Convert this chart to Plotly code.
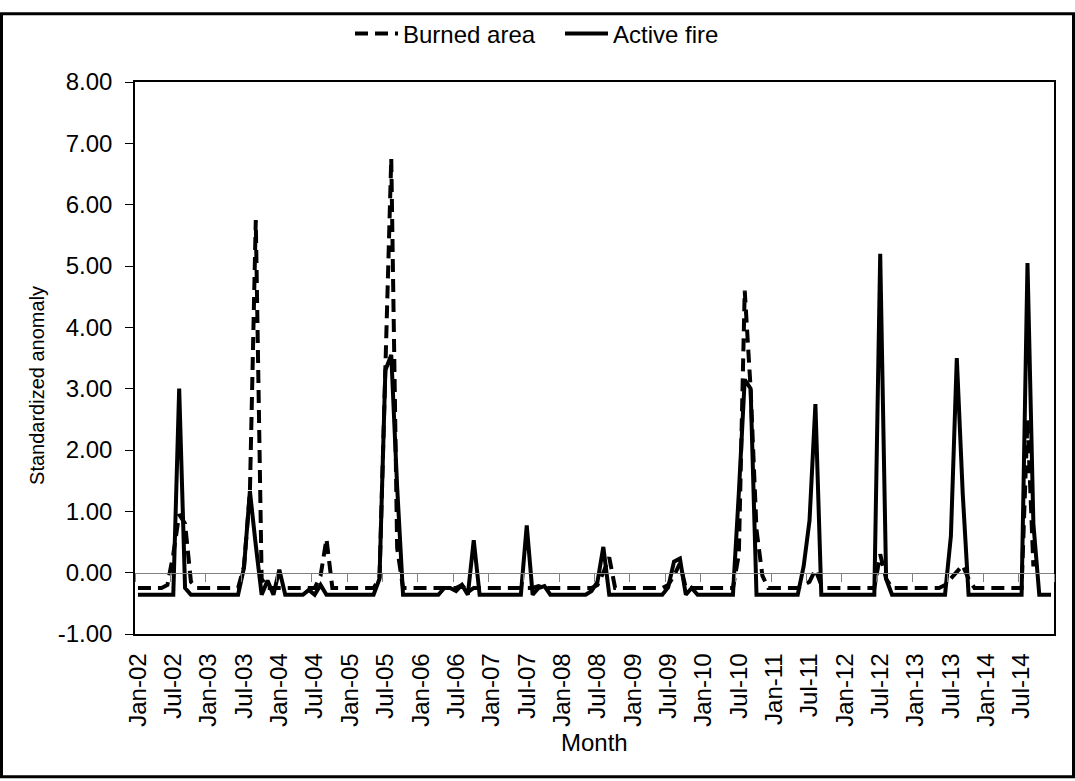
import plotly.graph_objects as go

MONTH_NAMES = ["Jan", "Feb", "Mar", "Apr", "May", "Jun",
               "Jul", "Aug", "Sep", "Oct", "Nov", "Dec"]
YEARS = ["02", "03", "04", "05", "06", "07", "08", "09", "10", "11", "12", "13", "14"]
months = [f"{m}-{y}" for y in YEARS for m in MONTH_NAMES]

# Standardized anomaly, one row per year (Jan..Dec)
active_fire = [
    -0.36, -0.36, -0.36, -0.36, -0.36, -0.36, -0.36, 3.00, -0.25, -0.36, -0.36, -0.36,   # 2002
    -0.36, -0.36, -0.36, -0.36, -0.36, -0.36, 0.08, 1.33, 0.45, -0.36, -0.13, -0.36,     # 2003
    0.05, -0.36, -0.36, -0.36, -0.36, -0.28, -0.36, -0.20, -0.36, -0.36, -0.36, -0.36,   # 2004
    -0.36, -0.36, -0.36, -0.36, -0.36, -0.10, 3.30, 3.55, 1.40, -0.36, -0.36, -0.36,     # 2005
    -0.36, -0.36, -0.36, -0.36, -0.25, -0.25, -0.30, -0.20, -0.36, 0.53, -0.36, -0.36,   # 2006
    -0.36, -0.36, -0.36, -0.36, -0.36, -0.36, 0.77, -0.36, -0.25, -0.22, -0.36, -0.36,   # 2007
    -0.36, -0.36, -0.36, -0.36, -0.36, -0.30, -0.15, 0.42, -0.36, -0.36, -0.36, -0.36,   # 2008
    -0.36, -0.36, -0.36, -0.36, -0.36, -0.36, -0.24, 0.18, 0.23, -0.36, -0.25, -0.36,    # 2009
    -0.36, -0.36, -0.36, -0.36, -0.36, -0.36, 1.30, 3.15, 3.00, -0.36, -0.36, -0.36,     # 2010
    -0.36, -0.36, -0.36, -0.36, -0.36, 0.10, 0.85, 2.75, -0.36, -0.36, -0.36, -0.36,     # 2011
    -0.36, -0.36, -0.36, -0.36, -0.36, -0.36, 5.20, -0.10, -0.36, -0.36, -0.36, -0.36,   # 2012
    -0.36, -0.36, -0.36, -0.36, -0.36, -0.36, 0.60, 3.50, 1.30, -0.36, -0.36, -0.36,     # 2013
    -0.36, -0.36, -0.36, -0.36, -0.36, -0.36, -0.36, 5.05, 0.80, -0.36, -0.36, -0.36,    # 2014
]

burned_area = [
    -0.25, -0.25, -0.25, -0.25, -0.25, -0.20, 0.30, 0.95, 0.80, -0.15, -0.25, -0.25,     # 2002
    -0.25, -0.25, -0.25, -0.25, -0.25, -0.25, 0.10, 1.30, 5.75, -0.10, -0.25, -0.25,     # 2003
    -0.25, -0.25, -0.25, -0.25, -0.25, -0.25, -0.25, -0.05, 0.55, -0.25, -0.25, -0.25,   # 2004
    -0.25, -0.25, -0.25, -0.25, -0.25, -0.10, 3.30, 6.75, 0.40, -0.25, -0.25, -0.25,     # 2005
    -0.25, -0.25, -0.25, -0.25, -0.25, -0.25, -0.25, -0.20, -0.32, -0.25, -0.25, -0.25,  # 2006
    -0.25, -0.25, -0.25, -0.25, -0.25, -0.25, -0.25, -0.25, -0.22, -0.25, -0.25, -0.25,  # 2007
    -0.25, -0.25, -0.25, -0.25, -0.25, -0.25, -0.20, 0.00, 0.25, -0.25, -0.25, -0.25,    # 2008
    -0.25, -0.25, -0.25, -0.25, -0.25, -0.25, -0.20, -0.05, 0.15, -0.25, -0.25, -0.25,   # 2009
    -0.25, -0.25, -0.25, -0.25, -0.25, -0.25, 0.30, 4.60, 3.00, 0.70, -0.05, -0.25,      # 2010
    -0.25, -0.25, -0.25, -0.25, -0.25, -0.20, -0.15, 0.05, -0.20, -0.25, -0.25, -0.25,   # 2011
    -0.25, -0.25, -0.25, -0.25, -0.25, -0.25, 0.30, -0.10, -0.25, -0.25, -0.25, -0.25,   # 2012
    -0.25, -0.25, -0.25, -0.25, -0.25, -0.20, -0.10, 0.00, 0.12, -0.10, -0.25, -0.25,    # 2013
    -0.25, -0.25, -0.25, -0.25, -0.25, -0.25, -0.25, 2.50, 0.10, None, None, None,       # 2014
]

x_tick_labels = months[::6]
y_tick_values = [-1, 0, 1, 2, 3, 4, 5, 6, 7, 8]
y_tick_labels = ["-1.00", "0.00", "1.00", "2.00", "3.00", "4.00",
                 "5.00", "6.00", "7.00", "8.00"]
boundary_ticks = [k * 6 - 0.5 for k in range(0, 27)]

FONT = "Liberation Sans, Arial, sans-serif"
W, H = 1075, 781
ML, MR, MT, MB = 135, 21, 71, 147
PW, PH = W - ML - MR, H - MT - MB

fig = go.Figure()
fig.add_trace(go.Scatter(
    x=months, y=burned_area, name="Burned area", mode="lines",
    line=dict(color="black", width=4, dash="13px,7px"),
    connectgaps=False,
))
fig.add_trace(go.Scatter(
    x=months, y=active_fire, name="Active fire", mode="lines",
    line=dict(color="black", width=4),
))
# helper trace so the zero-line axis (x2) is drawn
fig.add_trace(go.Scatter(x=[0], y=[None], xaxis="x2", yaxis="y",
                         showlegend=False, hoverinfo="skip"))

fig.update_layout(
    width=W, height=H,
    margin=dict(l=ML, r=MR, t=MT, b=MB, pad=0),
    paper_bgcolor="white", plot_bgcolor="white",
    font=dict(family=FONT, size=24, color="black"),
    showlegend=True,
    legend=dict(orientation="h", x=(350 - ML) / PW, xanchor="left",
                y=(H - MB - 22) / PH, yanchor="middle",
                font=dict(size=24), bgcolor="rgba(0,0,0,0)",
                itemwidth=43, entrywidth=152, entrywidthmode="pixels"),
    xaxis=dict(
        type="category", range=[-0.5, len(months) - 0.5],
        tickmode="array", tickvals=x_tick_labels, ticktext=x_tick_labels,
        tickangle=-90, ticks="", ticklabelstandoff=8,
        showline=True, linecolor="black", linewidth=1.5, mirror=True,
        showgrid=False, zeroline=False,
        tickfont=dict(size=24),
    ),
    xaxis2=dict(
        overlaying="x", anchor="free", position=1 / 9,
        range=[-0.5, len(months) - 0.5],
        tickmode="array", tickvals=boundary_ticks,
        ticks="outside", ticklen=8, tickwidth=1, tickcolor="#808080",
        showticklabels=False, showline=True, linecolor="#808080", linewidth=1,
        showgrid=False, zeroline=False,
    ),
    yaxis=dict(
        range=[-1, 8], tickmode="array", tickvals=y_tick_values,
        ticktext=y_tick_labels, ticks="outside", ticklen=8, tickcolor="black",
        showline=True, linecolor="black", linewidth=1.5, mirror=True,
        showgrid=False, zeroline=False, ticklabelstandoff=8,
        tickfont=dict(size=24),
    ),
    annotations=[
        dict(text="Standardized anomaly", textangle=-90, showarrow=False,
             xref="paper", yref="paper", x=(37 - ML) / PW, y=(H - MB - 381) / PH,
             xanchor="center", yanchor="middle", font=dict(size=20)),
        dict(text="Month", showarrow=False, xref="paper", yref="paper",
             x=0.5, y=-(745 - (H - MB)) / PH, xanchor="center", yanchor="middle",
             font=dict(size=24)),
    ],
    shapes=[
        dict(type="rect", xref="paper", yref="paper",
             x0=(1.5 - ML) / PW, x1=(W - 1.5 - ML) / PW,
             y0=(H - MB - (H - 1.5)) / PH, y1=(H - MB - 1.5) / PH,
             line=dict(color="black", width=3), fillcolor="rgba(0,0,0,0)"),
    ],
)

fig.write_html(
    "out.html",
    config={"displayModeBar": False},
    post_script="document.body.style.margin='0';document.body.style.overflow='hidden';",
)
